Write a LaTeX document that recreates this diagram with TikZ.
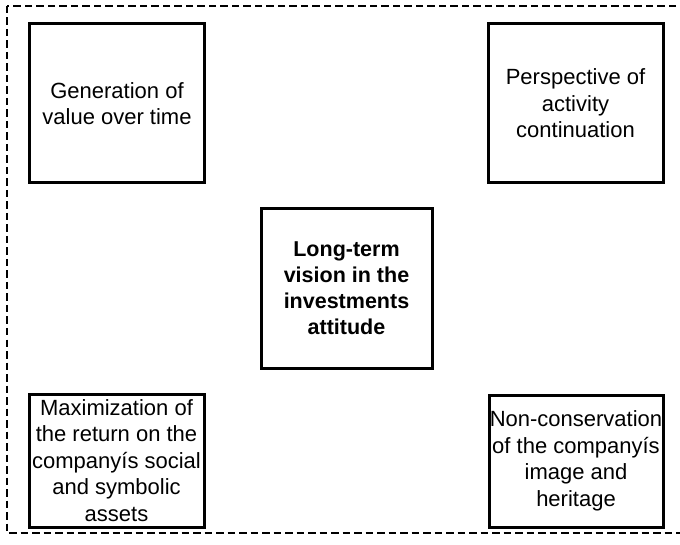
\documentclass[tikz,border=0pt]{standalone}
\usepackage{fontspec}
\setmainfont{Liberation Sans}

\begin{document}
\begin{tikzpicture}[x=1pt,y=-1pt,
    factor/.style={draw,line width=3pt,inner sep=0pt,align=center,
      font=\fontsize{22}{26.5}\selectfont},
    core/.style={factor,font=\fontsize{21.5}{26}\selectfont\bfseries}]
  \useasboundingbox (0,0) rectangle (680,545);
  \clip (0,0) rectangle (680,545);

  % frame round everything, its right side runs off the page
  \draw[line width=2.2pt,dash pattern=on 7.5pt off 4pt] (7,6) rectangle (700,533);

  \node[factor,minimum width=175pt,minimum height=159pt] (value) at (117,103.5)
    {Generation of\\value over time};
  \node[factor,minimum width=175pt,minimum height=159pt] (continuation) at (575.5,103.5)
    {Perspective of\\activity\\continuation};

  \node[core,minimum width=171pt,minimum height=159pt] (vision) at (346.5,288.5)
    {Long-term\\vision in the\\investments\\attitude};

  \node[factor,minimum width=175pt,minimum height=133pt] (assets) at (116.5,460.5)
    {Maximization of\\the return on the\\companyís social\\and symbolic\\assets};
  \node[factor,minimum width=174pt,minimum height=132pt] (heritage) at (576,461)
    {Non-conservation\\of the companyís\\image and\\heritage};
\end{tikzpicture}
\end{document}
